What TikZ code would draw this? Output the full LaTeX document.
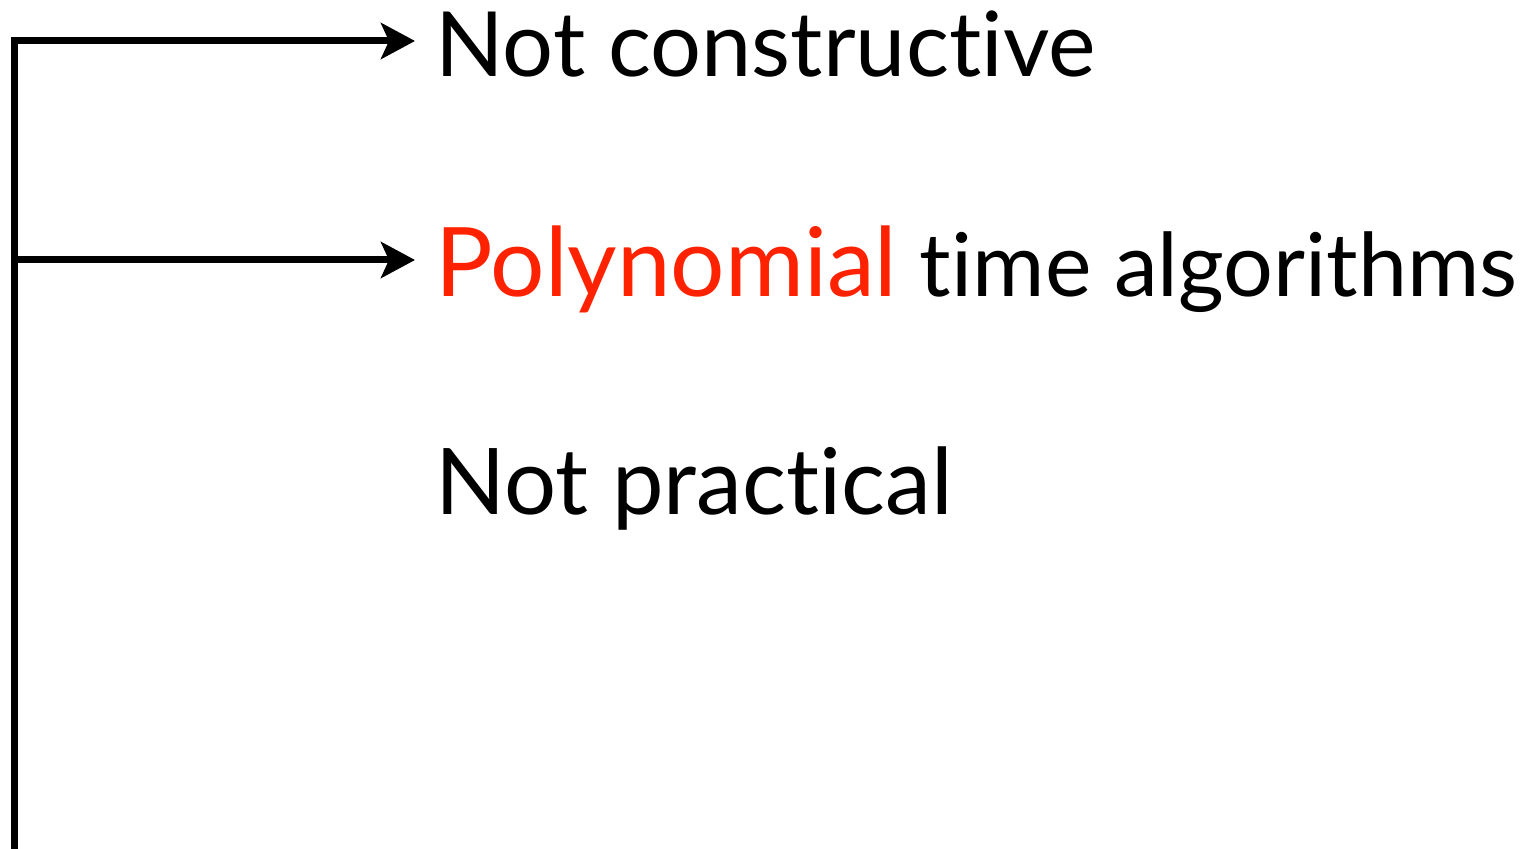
\documentclass[tikz,border=0pt]{standalone}
\usepackage{fontspec}
\setmainfont{Lato}[Ligatures={NoCommon}]
\usepackage{xcolor}
\definecolor{polyred}{RGB}{255,34,0}
\usetikzlibrary{arrows.meta, positioning}
\tikzstyle{item}=[anchor=base west, inner xsep=10pt, inner ysep=0pt,
  font=\fontsize{44}{50}\selectfont]
\tikzstyle{arrow}=[-{Stealth[length=17pt, width=18pt, inset=4pt]}, line width=3.5pt]

\begin{document}
\begin{tikzpicture}[x=0.5pt, y=-0.5pt]
  \useasboundingbox (0,0) rectangle (1528,849);
  \node[item, font=\fontsize{45}{50}\selectfont] (cons) at (415,77) {Not constructive};
  \node[item] (poly) at (415,297) {\textcolor{polyred}{\fontsize{48}{50}\selectfont Polynomial} time algorithms};
  \node[item, font=\fontsize{46}{50}\selectfont] (prac) at (415,515) {Not practical};
  \coordinate (top) at (14,41);
  \coordinate (mid) at (14,260);
  \coordinate (bot) at (14,849);
  \draw[arrow] (bot) -- (top) -- (top -| cons.west);
  \draw[arrow] (mid) -- (mid -| poly.west);
\end{tikzpicture}
\end{document}
